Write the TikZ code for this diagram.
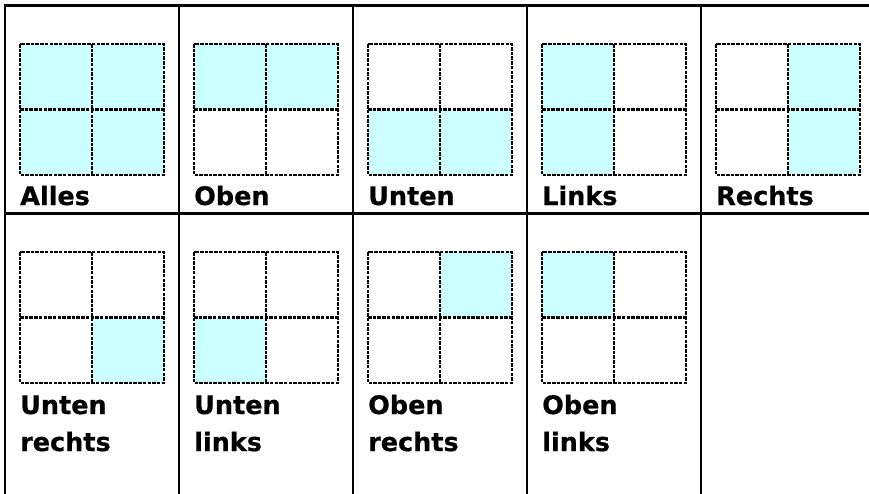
\documentclass[tikz,border=0pt]{standalone}
\usepackage{fontspec}
\setmainfont{DejaVu Sans}
\newfontfamily\lblfont{DejaVu Sans Bold}[FakeBold=0.6]
\definecolor{cy}{HTML}{CCFFFF}
\tikzset{
  tline/.style={line width=2.8pt, line cap=rect},
  gline/.style={line width=2.3pt, dash pattern=on 3.5pt off 1.2pt},
  lbl/.style={anchor=base west, inner sep=0pt, font=\fontsize{25.5}{37}\selectfont\lblfont, align=left}
}
% #1 x, #2 y (top-left), #3 tl, #4 tr, #5 bl, #6 br
\newcommand\qgrid[6]{%
  \fill[#3] (#1,#2) rectangle ++(72,65.5);
  \fill[#4] (#1+72,#2) rectangle ++(72,65.5);
  \fill[#5] (#1,#2+65.5) rectangle ++(72,65.5);
  \fill[#6] (#1+72,#2+65.5) rectangle ++(72,65.5);
  \draw[gline] (#1,#2) rectangle ++(144,131);
  \draw[gline] (#1+72,#2) -- ++(0,131);
  \draw[gline] (#1,#2+65.5) -- ++(144,0);
}
\begin{document}
\begin{tikzpicture}[x=1pt,y=-1pt]
\useasboundingbox[fill=white] (0,0) rectangle (869,493);
% table
\draw[tline] (5,5.7) -- (869,5.7);
\draw[tline] (5,213.5) -- (869,213.5);
\foreach \cx in {5,179,353,527,701} \draw[tline] (\cx,5.7) -- (\cx,493);
% row 1
\qgrid{20}{44}{cy}{cy}{cy}{cy}
\qgrid{194}{44}{cy}{cy}{white}{white}
\qgrid{368}{44}{white}{white}{cy}{cy}
\qgrid{542}{44}{cy}{white}{cy}{white}
\qgrid{716}{44}{white}{cy}{white}{cy}
\node[lbl] (l1) at (20,205) {Alles};
\node[lbl] (l2) at (194,205) {Oben};
\node[lbl] (l3) at (368,205) {Unten};
\node[lbl] (l4) at (542,205) {Links};
\node[lbl] (l5) at (716,205) {Rechts};
% row 2
\qgrid{20}{252}{white}{white}{white}{cy}
\qgrid{194}{252}{white}{white}{cy}{white}
\qgrid{368}{252}{white}{cy}{white}{white}
\qgrid{542}{252}{cy}{white}{white}{white}
\node[lbl] (l6) at (20,451) {Unten\\rechts};
\node[lbl] (l7) at (194,451) {Unten\\links};
\node[lbl] (l8) at (368,451) {Oben\\rechts};
\node[lbl] (l9) at (542,451) {Oben\\links};
\end{tikzpicture}
\end{document}
